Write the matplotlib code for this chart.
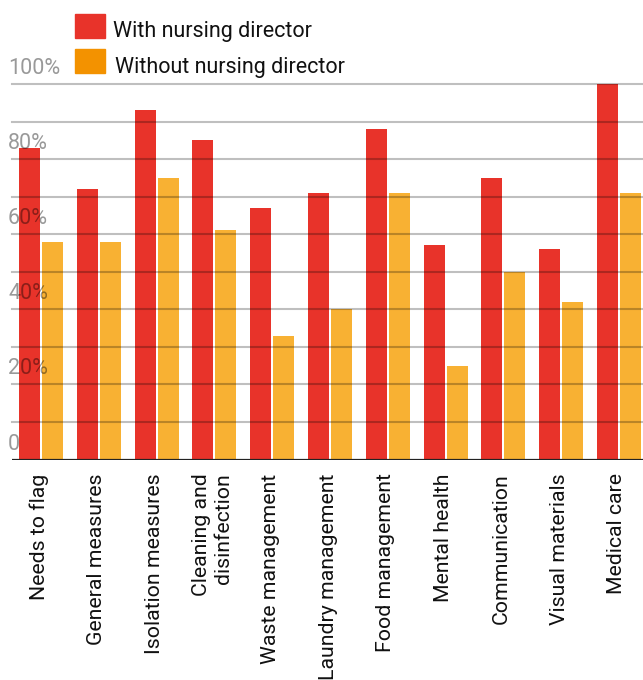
import matplotlib
matplotlib.use("Agg")
import matplotlib.pyplot as plt
from matplotlib.patches import Rectangle
import numpy as np

categories = ["Needs to flag", "General measures", "Isolation measures",
              "Cleaning and\ndisinfection", "Waste management", "Laundry management",
              "Food management", "Mental health", "Communication",
              "Visual materials", "Medical care"]
with_director = [83, 72, 93, 85, 67, 71, 88, 57, 75, 56, 100]
without_director = [58, 58, 75, 61, 33, 40, 71, 25, 50, 42, 71]
series_names = ["With nursing director", "Without nursing director"]
ytick_vals = [0, 20, 40, 60, 80, 100]
ytick_labels = ["0", "20%", "40%", "60%", "80%", "100%"]

RED = "#E8332A"
ORANGE_BAR = "#F8B133"
ORANGE_LEG = "#F39200"
FONT = "Roboto"

W, H = 643, 680
fig = plt.figure(figsize=(W / 100, H / 100), dpi=100)
ax = fig.add_axes([12 / W, (H - 459.5) / H, 631 / W, (459.5 - 84) / H])

x = np.arange(len(categories))
bw = 21 / 57.8
off = 11.5 / 57.8
ax.bar(x - off, with_director, width=bw, color=RED, zorder=2)
ax.bar(x + off, without_director, width=bw, color=ORANGE_BAR, zorder=2)

ax.set_xlim(-29 / 57.8, 602 / 57.8)
ax.set_ylim(0, 100)

for v in range(10, 101, 10):
    ax.axhline(v, color=(0, 0, 0, 0.25), lw=1.5, zorder=3, clip_on=False)
ax.axhline(0, color="#222222", lw=1.6, zorder=4)

for s in ax.spines.values():
    s.set_visible(False)
ax.set_yticks([])
ax.set_xticks(x - 2 / 57.8)
ax.set_xticklabels(categories, rotation=90, fontsize=15.3, family=FONT,
                   color="#111111", va="top", ha="center", multialignment="right")
ax.tick_params(axis="x", length=0, pad=10)

ytr = ax.get_yaxis_transform()
for v, lab in zip(ytick_vals, ytick_labels):
    t = ax.text(-4 / 631, v, lab, transform=ytr, ha="left", va="baseline",
                fontsize=15.5, family=FONT, color=(0, 0, 0, 0.4), zorder=5)
    t.set_transform(ytr + matplotlib.transforms.ScaledTranslation(0, 10 / 100, fig.dpi_scale_trans))

# legend
leg_colors = [RED, ORANGE_LEG]
leg_y = [14, 49]
leg_x = [113, 115]
for c, y0, tx, name in zip(leg_colors, leg_y, leg_x, series_names):
    fig.patches.append(Rectangle((75 / W, 1 - (y0 + 24) / H), 30 / W, 24 / H,
                                 transform=fig.transFigure, color=c))
    fig.text(tx / W, 1 - (y0 + 18) / H, name, fontsize=15.5, family=FONT,
             color="#111111", ha="left", va="center")

fig.savefig("out.png", dpi=100)
